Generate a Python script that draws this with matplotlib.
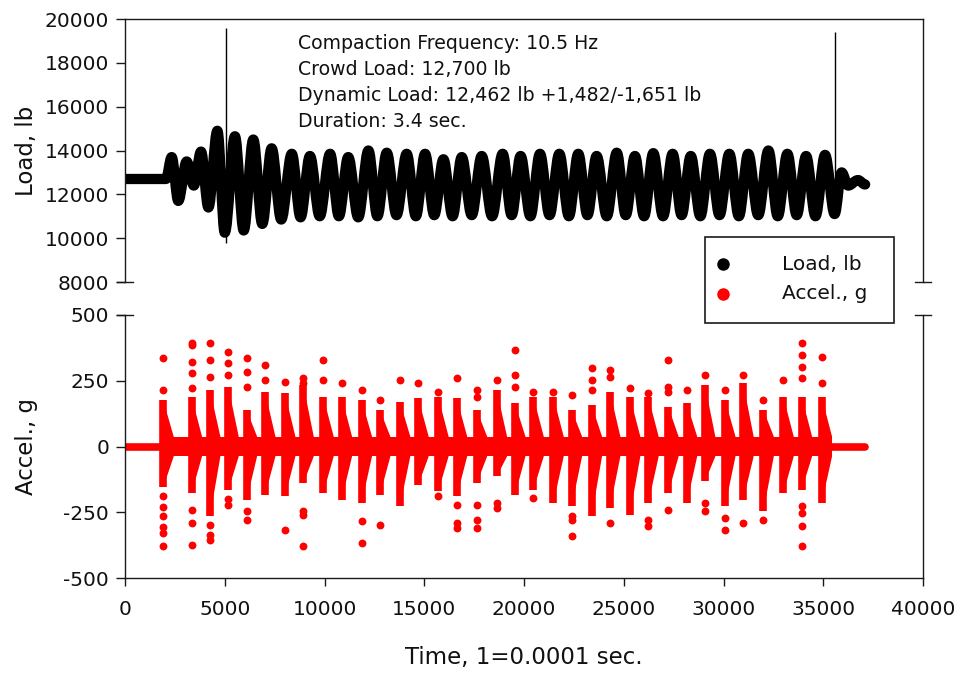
import matplotlib
matplotlib.use("Agg")
import matplotlib.pyplot as plt
from matplotlib.path import Path
from matplotlib.patches import PathPatch, Rectangle
from matplotlib.lines import Line2D

plt.rcParams['font.family'] = ['DejaVu Sans']
plt.rcParams['axes.unicode_minus'] = False

# ---------------------------------------------------------------------------
# Load trace: successive turning points (time in 0.0001 s steps, load in lb)
# ---------------------------------------------------------------------------
load_time = [0, 2050,
             2340, 2670, 3090, 3450, 3810, 4180, 4630, 5000, 5510, 5950,
             6430, 6880, 7350, 7830, 8360, 8800, 9270, 9760, 10280, 10720,
             11190, 11690, 12200, 12650, 13120, 13610, 14120, 14580, 15040, 15500,
             15960, 16420, 16880, 17380, 17880, 18400, 18930, 19380, 19830, 20320,
             20800, 21280, 21770, 22250, 22720, 23180, 23640, 24150, 24650, 25100,
             25560, 26020, 26480, 26970, 27450, 27900, 28360, 28840, 29320, 29800,
             30290, 30770, 31240, 31740, 32250, 32720, 33200, 33670, 34140, 34610,
             35090, 35570,
             35920, 36250, 36740, 37100]
load_lb = [12700, 12700,
           13700, 11700, 13500, 12400, 13950, 11400, 14900, 10250, 14650, 10350,
           14500, 10650, 14100, 10850, 13850, 10950, 13750, 11000, 13850, 11000,
           13700, 10950, 14000, 11000, 13900, 11050, 13850, 11000, 13850, 11050,
           13600, 11000, 13700, 11050, 13750, 11000, 13850, 11050, 13750, 11000,
           13850, 11050, 13850, 11000, 13850, 11050, 13750, 11000, 13900, 11050,
           13750, 11000, 13880, 11000, 13850, 11050, 13750, 11000, 13850, 11050,
           13850, 11000, 13850, 11050, 14000, 11000, 13850, 11050, 13750, 11000,
           13800, 11100,
           13000, 12400, 12650, 12450]

# Start / end markers of the compaction period
event_time = [5050, 35600]
event_low = [9800, 11000]
event_high = [19600, 19400]

# ---------------------------------------------------------------------------
# Acceleration record: one burst per compaction blow
# ---------------------------------------------------------------------------
burst_time = [1920, 3340, 4260, 5180, 6100, 7020, 8020, 8940, 9940, 10860,
              11860, 12780, 13780, 14700, 15700, 16630, 17630, 18630, 19550, 20470,
              21470, 22390, 23390, 24310, 25310, 26230, 27230, 28160, 29070, 30080,
              30990, 32000, 33000, 33920, 34920]
burst_core_hi = [175, 189, 215, 227, 139, 208, 202, 234, 189, 189,
                 177, 139, 171, 184, 190, 184, 139, 215, 164, 189,
                 189, 139, 158, 208, 189, 189, 151, 164, 234, 177,
                 240, 139, 189, 189, 189]
burst_core_lo = [-155, -177, -266, -165, -203, -184, -190, -140, -177, -203,
                 -216, -184, -228, -146, -171, -190, -140, -114, -184, -165,
                 -216, -228, -266, -234, -260, -216, -177, -216, -133, -228,
                 -203, -247, -177, -165, -216]
burst_peaks_hi = [[335, 215], [392, 385, 322, 278, 221], [392, 328, 265],
                  [360, 316, 272], [335, 284, 227], [310, 253], [247],
                  [260, 240], [328, 253], [240], [215], [177], [253], [240],
                  [209], [260], [215, 190], [253], [367, 272, 227], [209],
                  [209], [196], [297, 253, 215], [291, 265], [221], [202],
                  [328, 227, 209], [215], [272], [215], [272], [177], [253],
                  [392, 348, 304, 260], [342, 240]]
burst_peaks_lo = [[-190, -230, -265, -305, -330, -380], [-241, -292, -375],
                  [-300, -336, -355], [-200, -222], [-247, -279], [], [-317],
                  [-247, -262, -380], [], [], [-285, -367], [-298], [], [],
                  [-190], [-222, -291, -311], [-222, -279, -311], [-216, -235],
                  [], [-195], [], [-266, -279, -342], [], [-291], [],
                  [-279, -304], [-241], [], [-216, -247], [-273, -317], [-291],
                  [-279], [], [-228, -253, -304, -380], []]
accel_span = [0, 37100]
accel_noise_g = 38
ring_length = 520

x_ticks = list(range(0, 40001, 5000))
load_ticks = list(range(8000, 20001, 2000))
accel_ticks = [-500, -250, 0, 250, 500]

annotation = ["Compaction Frequency: 10.5 Hz",
              "Crowd Load: 12,700 lb",
              "Dynamic Load: 12,462 lb +1,482/-1,651 lb",
              "Duration: 3.4 sec."]

RED = '#ff0000'
SPINE = '#1a1a1a'
TXT = '#111111'
W, H = 958, 675

fig = plt.figure(figsize=(W / 100, H / 100), dpi=100)
left, width = 125 / W, 798 / W
ax1 = fig.add_axes([left, 1 - 282 / H, width, 263 / H])
ax2 = fig.add_axes([left, 1 - 578 / H, width, 263 / H])

# ---- load panel -----------------------------------------------------------
k = 0.36
verts = [(load_time[0], load_lb[0])]
codes = [Path.MOVETO]
for i in range(1, len(load_time)):
    t0, t1 = load_time[i - 1], load_time[i]
    v0, v1 = load_lb[i - 1], load_lb[i]
    dt = t1 - t0
    verts += [(t0 + k * dt, v0), (t1 - k * dt, v1), (t1, v1)]
    codes += [Path.CURVE4] * 3
ax1.add_patch(PathPatch(Path(verts, codes), facecolor='none', edgecolor='black',
                        lw=7.4, capstyle='round', joinstyle='round'))
ax1.vlines(event_time, event_low, event_high, color='black', lw=1.0)

for i, line in enumerate(annotation):
    ax1.text(0.2168, 0.886 - i * 0.0995, line, transform=ax1.transAxes,
             fontsize=13.6, va='baseline', ha='left', color=TXT)

ax1.set_xlim(0, 40000)
ax1.set_ylim(8000, 20000)
ax1.set_yticks(load_ticks)
ax1.set_xticks([])
ax1.spines['bottom'].set_visible(False)
ax1.set_ylabel('Load, lb', fontsize=16.5, va='center', color=TXT)
ax1.yaxis.set_label_coords(-0.123, 0.5)

# ---- acceleration panel ---------------------------------------------------
ax2.plot(accel_span, [0, 0], color=RED, lw=5.5, solid_capstyle='round')
ax2.fill_between([burst_time[0], burst_time[-1] + ring_length],
                 -accel_noise_g, accel_noise_g, color=RED, lw=0)
for t, hi, lo in zip(burst_time, burst_core_hi, burst_core_lo):
    ax2.fill([t, t + ring_length, t + ring_length, t],
             [hi, accel_noise_g, -accel_noise_g, lo], color=RED, lw=0)
ax2.vlines(burst_time, burst_core_lo, burst_core_hi, color=RED, lw=5.5)
for t, his, los in zip(burst_time, burst_peaks_hi, burst_peaks_lo):
    vals = his + los
    ax2.scatter([t] * len(vals), vals, s=32, color=RED, lw=0, zorder=3)

ax2.set_xlim(0, 40000)
ax2.set_ylim(-500, 500)
ax2.set_xticks(x_ticks)
ax2.set_xticklabels([str(v) for v in x_ticks])
ax2.set_yticks(accel_ticks)
ax2.spines['top'].set_visible(False)
ax2.set_ylabel('Accel., g', fontsize=16.5, va='center', color=TXT)
ax2.yaxis.set_label_coords(-0.123, 0.5)
ax2.set_xlabel('Time, 1=0.0001 sec.', fontsize=16.5, va='center', color=TXT)
ax2.xaxis.set_label_coords(0.5, -0.304)

for ax in (ax1, ax2):
    for s in ax.spines.values():
        s.set_color(SPINE)
        s.set_linewidth(1.0)
    ax.tick_params(axis='y', direction='out', length=6.5, width=1.0,
                   pad=5, labelsize=14.5, colors=SPINE, labelcolor=TXT,
                   right=False)
    ax.tick_params(axis='x', direction='out', length=6, width=1.0,
                   pad=10, labelsize=14.5, colors=SPINE, labelcolor=TXT,
                   top=False)

# axis-break caps at the ends of the side spines
d = 8 / 798
for x in (0, 1):
    ax1.plot([x - d, x + d], [0, 0], transform=ax1.transAxes, color=SPINE,
             lw=1.0, clip_on=False)
    ax2.plot([x - d, x + d], [1, 1], transform=ax2.transAxes, color=SPINE,
             lw=1.0, clip_on=False)

# ---- legend ---------------------------------------------------------------
fig.add_artist(Rectangle((705 / W, 1 - 323 / H), 189 / W, 86 / H,
                         transform=fig.transFigure, facecolor='white',
                         edgecolor=SPINE, lw=1.2, zorder=5))
legend_rows = [('Load, lb', 'black', 264), ('Accel., g', RED, 294)]
for label, col, ypix in legend_rows:
    fig.add_artist(Line2D([723 / W], [1 - ypix / H], marker='o', markersize=8,
                          color=col, lw=0, transform=fig.transFigure, zorder=6))
    fig.text(782 / W, 1 - ypix / H, label, fontsize=14.5, va='center',
             ha='left', color=TXT, zorder=6)

fig.savefig('out.png', dpi=100)
